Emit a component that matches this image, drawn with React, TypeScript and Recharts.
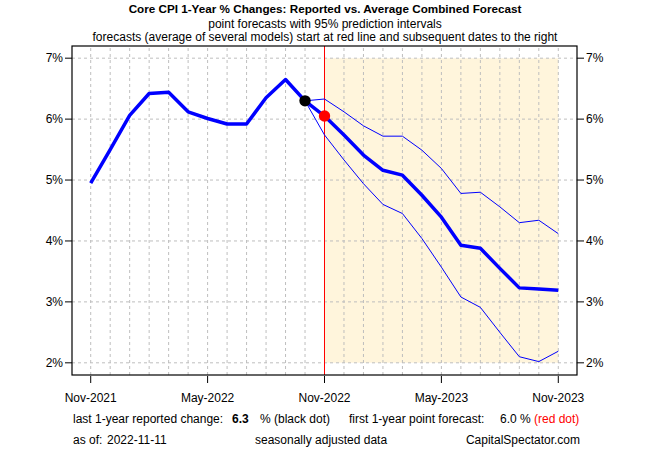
import React from 'react';
import { LineChart, Line, XAxis, YAxis, ReferenceArea, ReferenceLine, Scatter } from 'recharts';

// monthly axis, Nov-2021 .. Nov-2023
const months = [
  'Nov-2021', 'Dec-2021', 'Jan-2022', 'Feb-2022', 'Mar-2022', 'Apr-2022', 'May-2022',
  'Jun-2022', 'Jul-2022', 'Aug-2022', 'Sep-2022', 'Oct-2022', 'Nov-2022', 'Dec-2022',
  'Jan-2023', 'Feb-2023', 'Mar-2023', 'Apr-2023', 'May-2023', 'Jun-2023', 'Jul-2023',
  'Aug-2023', 'Sep-2023', 'Oct-2023', 'Nov-2023',
];

// reported core CPI 1-year % change, Nov-2021 .. Oct-2022
const reported = [4.95, 5.5, 6.06, 6.42, 6.44, 6.12, 6.01, 5.92, 5.92, 6.35, 6.65, 6.3];
// average combined point forecast, Nov-2022 .. Nov-2023
const forecast = [6.05, 5.74, 5.41, 5.16, 5.08, 4.75, 4.39, 3.93, 3.88, 3.55, 3.23, 3.21, 3.19];
// 95% prediction interval, Nov-2022 .. Nov-2023
const upper = [6.33, 6.12, 5.89, 5.72, 5.72, 5.49, 5.19, 4.78, 4.8, 4.56, 4.3, 4.34, 4.12];
const lower = [5.74, 5.33, 4.94, 4.6, 4.45, 4.04, 3.57, 3.08, 2.91, 2.5, 2.1, 2.02, 2.19];

const yTicks = [2, 3, 4, 5, 6, 7];
const xTicks = months.map((_, i) => i);
const labelEvery = 6;
const xDomain = [-0.96, 24.96];
const yDomain = [1.8, 7.2];

const lastReported = '6.3';
const firstForecast = '6.0';
const asOf = '2022-11-11';

const last = reported.length - 1;
const rows = months.map((m, i) => {
  const f = i - reported.length;
  return {
    x: i,
    month: m,
    point: i <= last ? reported[i] : forecast[f],
    upper: i === last ? reported[last] : f >= 0 ? upper[f] : null,
    lower: i === last ? reported[last] : f >= 0 ? lower[f] : null,
  };
});

const W = 650;
const H = 450;
const margin = { top: 46, right: 33, left: 32, bottom: 45 };
const yAxisW = 40;
const xAxisH = 30;
// plot frame (R-style box) from the same layout numbers
const box = {
  x: margin.left + yAxisW,
  y: margin.top,
  w: W - margin.left - margin.right - 2 * yAxisW,
  h: H - margin.top - margin.bottom - xAxisH,
};

const FONT = '"Liberation Sans", Arial, sans-serif';
const GRID = '#BEBEBE';

const XTick = (props: any) => {
  const { x, y, payload } = props;
  if (payload.value % labelEvery !== 0) return null;
  const top = y - 8;
  return (
    <g>
      <line x1={x} x2={x} y1={top + 1} y2={top + 8} stroke="#000" />
      <text x={x} y={top + 23} textAnchor="middle" dominantBaseline="central" fontSize={12} fill="#000" fontFamily={FONT}>
        {months[payload.value]}
      </text>
    </g>
  );
};

const yTickStyle = { fontSize: 12, fill: '#000', fontFamily: FONT };

const App: React.FC = () => {
  return (
    <div style={{ position: 'absolute', left: 0, top: 0, width: W, height: H, background: '#fff' }}>
      <LineChart width={W} height={H} data={rows} margin={margin}>
        <XAxis
          dataKey="x"
          type="number"
          domain={xDomain}
          ticks={xTicks}
          interval={0}
          stroke="#000"
          axisLine={false}
          tickLine={false}
          tick={<XTick />}
          height={xAxisH}
          allowDataOverflow
        />
        <YAxis
          yAxisId="l"
          type="number"
          domain={yDomain}
          ticks={yTicks}
          tickFormatter={(v) => `${v}%`}
          stroke="#000"
          axisLine={false}
          tickSize={7}
          tick={yTickStyle}
          width={yAxisW}
          allowDataOverflow
        />
        <YAxis
          yAxisId="r"
          orientation="right"
          type="number"
          domain={yDomain}
          ticks={yTicks}
          tickFormatter={(v) => `${v}%`}
          stroke="#000"
          axisLine={false}
          tickSize={7}
          tick={yTickStyle}
          width={yAxisW}
          allowDataOverflow
        />
        <ReferenceArea yAxisId="l" x1={12} x2={24} y1={2} y2={7} fill="#FFF5DC" fillOpacity={1} stroke="none" />
        {xTicks.map((t) => (
          <ReferenceLine key={'gx' + t} yAxisId="l" x={t} stroke={GRID} strokeDasharray="3 3" />
        ))}
        {yTicks.map((t) => (
          <ReferenceLine key={'gy' + t} yAxisId="l" y={t} stroke={GRID} strokeDasharray="3 3" />
        ))}
        <ReferenceLine yAxisId="l" x={12} stroke="#FF0000" strokeWidth={1} />
        <Line yAxisId="l" dataKey="upper" stroke="#0000FF" strokeWidth={1} dot={false} isAnimationActive={false} connectNulls={false} />
        <Line yAxisId="l" dataKey="lower" stroke="#0000FF" strokeWidth={1} dot={false} isAnimationActive={false} connectNulls={false} />
        <Line yAxisId="l" dataKey="point" stroke="#0000FF" strokeWidth={3.5} dot={false} isAnimationActive={false} strokeLinejoin="round" />
        <Scatter yAxisId="l" data={[{ x: last, point: reported[last] }]} dataKey="point" fill="#000" shape={(p: any) => <circle cx={p.cx} cy={p.cy} r={5.7} fill="#000" />} isAnimationActive={false} />
        <Scatter yAxisId="l" data={[{ x: last + 1, point: forecast[0] }]} dataKey="point" fill="#FF0000" shape={(p: any) => <circle cx={p.cx} cy={p.cy} r={5.7} fill="#FF0000" />} isAnimationActive={false} />
      </LineChart>
      <svg width={W} height={H} style={{ position: 'absolute', left: 0, top: 0, pointerEvents: 'none' }} fontFamily={FONT} fontSize={12}>
        <rect x={box.x} y={box.y} width={box.w} height={box.h} fill="none" stroke="#000" strokeWidth={1.2} />
        <text x={325} y={8.5} textAnchor="middle" dominantBaseline="central" fontWeight="bold" fontSize={11.7}>
          Core CPI 1-Year % Changes: Reported vs. Average Combined Forecast
        </text>
        <text x={325} y={24} textAnchor="middle" dominantBaseline="central">
          point forecasts with 95% prediction intervals
        </text>
        <text x={325} y={37} textAnchor="middle" dominantBaseline="central">
          forecasts (average of several models) start at red line and subsequent dates to the right
        </text>
        <text x={73} y={419} dominantBaseline="central">last 1-year reported change:</text>
        <text x={232} y={419} dominantBaseline="central" fontWeight="bold">{lastReported}</text>
        <text x={260} y={419} dominantBaseline="central">% (black dot)</text>
        <text x={349} y={419} dominantBaseline="central">first 1-year point forecast:</text>
        <text x={500} y={419} dominantBaseline="central">{firstForecast} %</text>
        <text x={534} y={419} dominantBaseline="central" fill="#FF0000">(red dot)</text>
        <text x={73} y={440} dominantBaseline="central">as of:</text>
        <text x={107} y={440} dominantBaseline="central">{asOf}</text>
        <text x={255} y={440} dominantBaseline="central">seasonally adjusted data</text>
        <text x={580} y={440} textAnchor="end" dominantBaseline="central">CapitalSpectator.com</text>
      </svg>
    </div>
  );
};

export default App;
